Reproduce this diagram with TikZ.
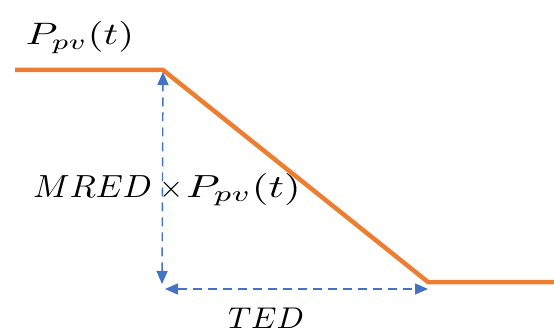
\documentclass[tikz,border=0pt]{standalone}
\usepackage{graphicx}
\usetikzlibrary{arrows.meta}
\definecolor{curveorange}{HTML}{ED7D31}
\definecolor{dimblue}{HTML}{4472C4}
\begin{document}
\begin{tikzpicture}[x=1pt,y=-1pt,
  curve/.style={curveorange,line width=4.5pt,line join=miter},
  dim/.style={dimblue,line width=1.4pt,dash pattern=on 9pt off 6pt,{Triangle[width=11pt,length=13pt]}-{Triangle[width=11pt,length=13pt]}},
  lbl/.style={inner sep=0pt,anchor=base}]
\useasboundingbox (0,0) rectangle (554,334);
\coordinate (a) at (15,70);
\coordinate (b) at (163,70);
\coordinate (c) at (428,282);
\coordinate (d) at (554,282);
\coordinate (vt) at (163,72);
\coordinate (vb) at (162,284);
\coordinate (hl) at (165,289);
\coordinate (hr) at (428,289);
\draw[curve] (a) -- (b) -- (c) -- (d);
\draw[dim] (vb) -- (vt);
\draw[dim] (hl) -- (hr);
\node[lbl] (p) at (80,45) {\scalebox{4.05}[3.1]{$P_{pv}(t)$}};
\node[lbl,anchor=base west] (m) at (33,197) {\scalebox{3.4}[3.2]{$MRED$}\kern7pt\scalebox{3.1}{$\times$}\kern3pt\scalebox{4.3}[3.2]{$P_{pv}(t)$}};
\node[lbl] (t) at (266,328) {\scalebox{3.2}[3.0]{$TED$}};
\end{tikzpicture}
\end{document}
